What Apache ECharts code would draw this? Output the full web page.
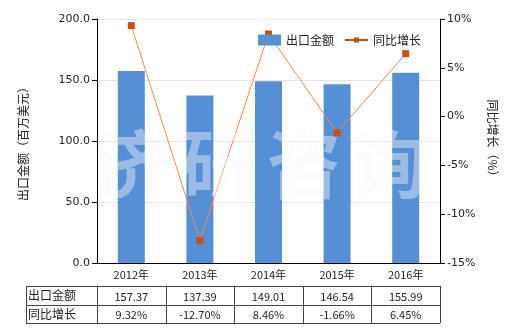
<!DOCTYPE html>
<html><head><meta charset="utf-8">
<script src="https://cdn.jsdelivr.net/npm/echarts@6/dist/echarts.min.js"></script>
<style>html,body{margin:0;padding:0;background:#fff}#c{width:520px;height:330px}</style></head>
<body><div id="c"></div>
<script>
const categories = ['2012年', '2013年', '2014年', '2015年', '2016年'];
const exportValues = [157.37, 137.39, 149.01, 146.54, 155.99];
const growthValues = [9.32, -12.70, 8.46, -1.66, 6.45];
const rowNames = ['出口金额', '同比增长'];

const FONT = '"Noto Sans CJK SC", "DejaVu Sans", sans-serif';
const chart = echarts.init(document.getElementById('c'), null, {renderer: 'canvas'});
const GL = 97, GR = 440, GT = 19, GB = 263;

chart.setOption({
  animation: false,
  textStyle: {fontFamily: FONT},
  grid: {left: GL, right: 520 - GR, top: GT, bottom: 330 - GB, containLabel: false},
  legend: {
    left: 253, top: 29, z: 10, itemGap: 11, itemWidth: 23, itemHeight: 11,
    textStyle: {fontSize: 12, color: '#222', fontFamily: FONT},
    data: [
      {name: '出口金额', icon: 'rect'},
      {name: '同比增长', icon: 'path://M0,4.6H9V3H14V4.6H23V6.4H14V8H9V6.4H0Z', itemStyle: {color: '#c9510c'}}
    ]
  },
  xAxis: {
    type: 'category', data: categories,
    axisLine: {lineStyle: {color: '#000', width: 1}},
    axisTick: {show: false},
    axisLabel: {color: '#222', fontSize: 11, margin: 6, fontFamily: FONT}
  },
  yAxis: [{
    type: 'value', min: 0, max: 200, interval: 50,
    name: '出口金额（百万美元）', nameLocation: 'middle', nameGap: 68, nameRotate: 90,
    nameTextStyle: {fontSize: 12, color: '#222', fontFamily: FONT},
    axisLine: {show: true, lineStyle: {color: '#000'}},
    axisTick: {show: true, length: 5, lineStyle: {color: '#000'}},
    axisLabel: {formatter: v => v.toFixed(1), color: '#222', fontSize: 11, margin: 7, fontFamily: 'Verdana, "DejaVu Sans", sans-serif'},
    splitLine: {lineStyle: {color: '#e4e4e4'}}
  }, {
    type: 'value', min: -15, max: 10, interval: 5,
    name: '同比增长（%）', nameLocation: 'middle', nameGap: 44, nameRotate: -90,
    nameTextStyle: {fontSize: 12, color: '#222', fontFamily: FONT},
    axisLine: {show: true, lineStyle: {color: '#000'}},
    axisTick: {show: true, length: 5, lineStyle: {color: '#000'}},
    axisLabel: {formatter: v => v + '%', color: '#222', fontSize: 11, margin: 7, fontFamily: 'Verdana, "DejaVu Sans", sans-serif'},
    splitLine: {show: false}
  }],
  series: [{
    name: '出口金额', type: 'bar', data: exportValues, barWidth: 27,
    itemStyle: {color: '#5590d6'}, z: 2
  }, {
    name: '同比增长', type: 'line', yAxisIndex: 1, data: growthValues,
    symbol: 'rect', symbolSize: 7,
    lineStyle: {color: '#f08a4b', width: 1},
    itemStyle: {color: '#c9510c'}, z: 3
  }]
});

// table below the plot
const xs = categories.map(c => chart.convertToPixel({xAxisIndex: 0}, c));
const bounds = [GL];
for (let i = 0; i < xs.length - 1; i++) bounds.push((xs[i] + xs[i + 1]) / 2);
bounds.push(GR);
const TL = 26, rowY = [286, 305, 323];
const g = [];
const lineStyle = {stroke: '#444', lineWidth: 1};
rowY.forEach(y => g.push({type: 'line', shape: {x1: TL, y1: y + 0.5, x2: GR, y2: y + 0.5}, style: lineStyle}));
[TL].concat(bounds).forEach(x => g.push({type: 'line', shape: {x1: Math.round(x) + 0.5, y1: rowY[0], x2: Math.round(x) + 0.5, y2: rowY[2]}, style: lineStyle}));
const rowsText = [exportValues.map(v => v.toFixed(2)), growthValues.map(v => v.toFixed(2) + '%')];
rowNames.forEach((n, r) => {
  const cy = (rowY[r] + rowY[r + 1]) / 2;
  g.push({type: 'text', x: TL + 2, y: cy, style: {text: n, fontSize: 12, fontFamily: FONT, fill: '#222', verticalAlign: 'middle', align: 'left'}});
  rowsText[r].forEach((t, i) => {
    g.push({type: 'text', x: xs[i], y: cy + 1, style: {text: t, fontSize: 11, fontFamily: FONT, fill: '#222', verticalAlign: 'middle', align: 'center'}});
  });
});
// watermark
['济', '研', '咨', '询'].forEach((ch, i) => {
  g.push({type: 'text', x: 132 + i * 86, y: 164, z: 10, silent: true,
    style: {text: ch, fontSize: 74, fontWeight: 'bold', fontFamily: FONT, fill: 'rgba(248,248,248,0.42)', align: 'center', verticalAlign: 'middle'}});
});
chart.setOption({graphic: g});
</script>
</body></html>
